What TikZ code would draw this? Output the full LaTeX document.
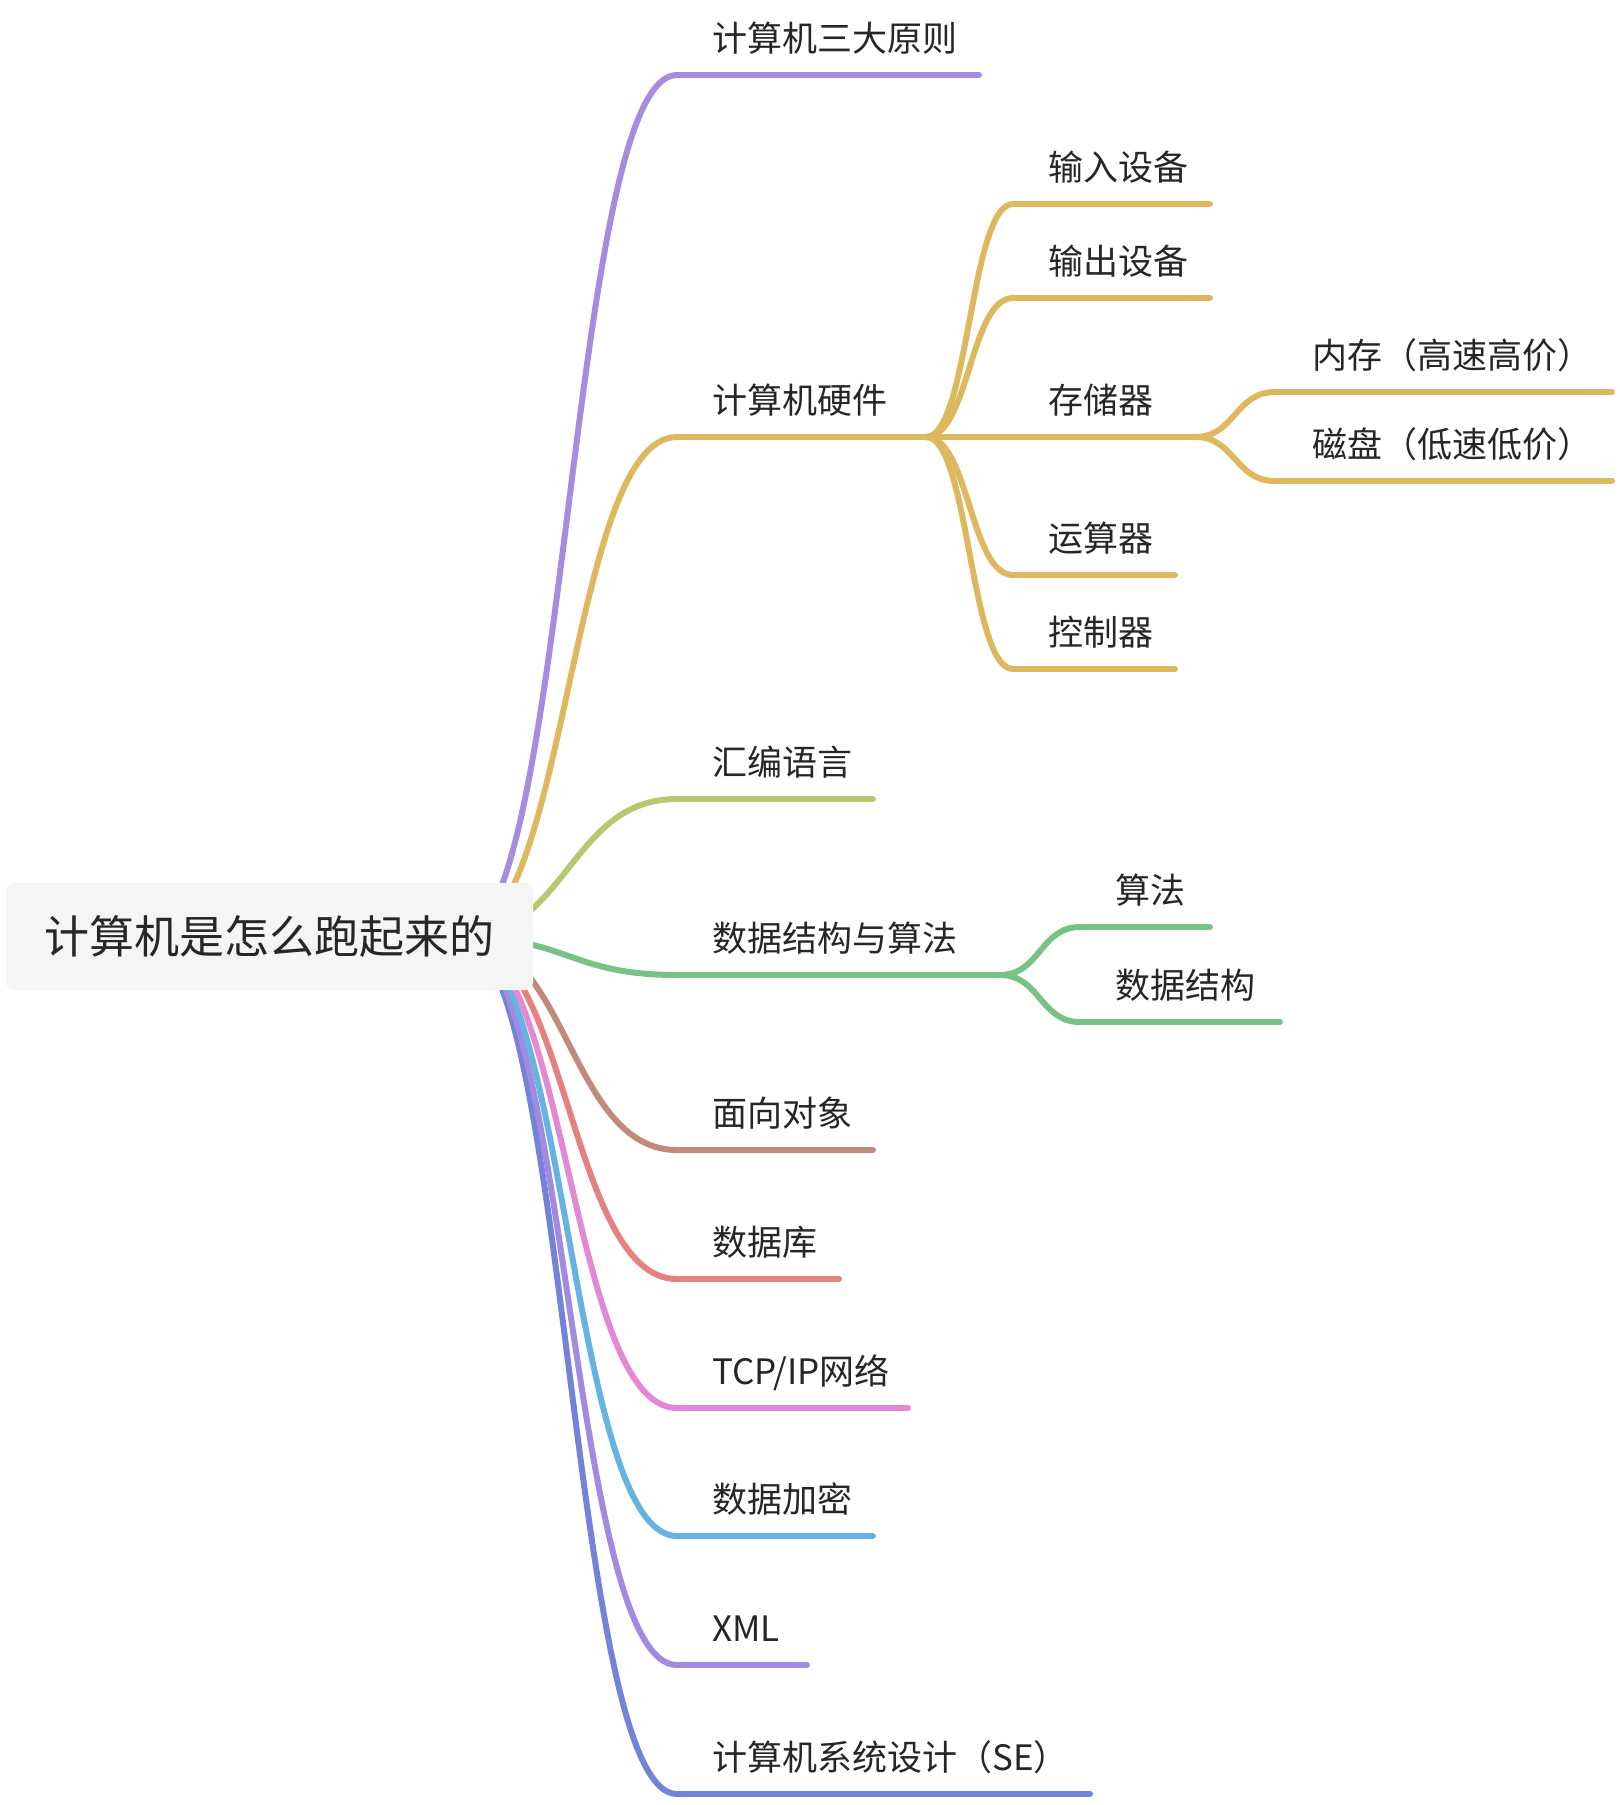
\documentclass[tikz,border=0pt]{standalone}
\usepackage{fontspec}
\newfontfamily\cjk{Noto Sans CJK SC}
\usetikzlibrary{calc}

\definecolor{cpurple}{HTML}{A68BDE}
\definecolor{cyellow}{HTML}{DEB85E}
\definecolor{colive}{HTML}{B5CA70}
\definecolor{cgreen}{HTML}{79C285}
\definecolor{cbrown}{HTML}{C28A79}
\definecolor{cred}{HTML}{E3827E}
\definecolor{cpink}{HTML}{E388D6}
\definecolor{cblue}{HTML}{66B2E2}
\definecolor{cviolet}{HTML}{A28AE0}
\definecolor{cindigo}{HTML}{7483DA}

\tikzset{
	branch/.style={line width=6pt, line cap=round},
	lbl/.style={anchor=base west, inner sep=0pt, text=black!85, font=\cjk\fontsize{35}{41}\selectfont},
	rootbox/.style={fill=black!4, rounded corners=8pt, minimum width=527pt, minimum height=107pt, inner sep=0pt, text=black!85, font=\cjk\fontsize{45}{54}\selectfont}
}
\def\link[#1](#2)(#3:#4){\draw[branch,#1] (#2) .. controls +(#4,0) and +(-#4,0) .. (#3);}

\begin{document}
\begin{tikzpicture}[x=1pt, y=-1pt]
		%%%%% START %%%%%
		\useasboundingbox (0,0) rectangle (1620,1805);
		
		\coordinate (rootout) at (460,937);
		
		% first level
		\coordinate (rules) at (677,75);   \coordinate (rulesend) at (979,75);
		\coordinate (hw) at (677,437);     \coordinate (hwfork) at (926,437);
		\coordinate (asm) at (677,799);    \coordinate (asmend) at (873,799);
		\coordinate (dsa) at (677,975);    \coordinate (dsafork) at (1000,975);
		\coordinate (oop) at (677,1150);   \coordinate (oopend) at (873,1150);
		\coordinate (db) at (677,1279);    \coordinate (dbend) at (839,1279);
		\coordinate (net) at (677,1408);   \coordinate (netend) at (908,1408);
		\coordinate (enc) at (677,1536);   \coordinate (encend) at (873,1536);
		\coordinate (xml) at (677,1665);   \coordinate (xmlend) at (807,1665);
		\coordinate (se) at (677,1794);    \coordinate (seend) at (1090,1794);
		
		\link[cpurple](rootout)(rules:108) \draw[branch,cpurple] (rules) -- (rulesend);
		\link[cyellow](rootout)(hw:108)    \draw[branch,cyellow] (hw) -- (hwfork);
		\link[colive](rootout)(asm:108)    \draw[branch,colive] (asm) -- (asmend);
		\link[cgreen](rootout)(dsa:108)    \draw[branch,cgreen] (dsa) -- (dsafork);
		\link[cindigo](rootout)(se:108)    \draw[branch,cindigo] (se) -- (seend);
		\link[cviolet](rootout)(xml:108)   \draw[branch,cviolet] (xml) -- (xmlend);
		\link[cblue](rootout)(enc:108)     \draw[branch,cblue] (enc) -- (encend);
		\link[cpink](rootout)(net:108)     \draw[branch,cpink] (net) -- (netend);
		\link[cred](rootout)(db:108)       \draw[branch,cred] (db) -- (dbend);
		\link[cbrown](rootout)(oop:108)    \draw[branch,cbrown] (oop) -- (oopend);
		
		% hardware
		\coordinate (inp) at (1013,204);   \coordinate (inpend) at (1210,204);
		\coordinate (outp) at (1013,298);  \coordinate (outpend) at (1210,298);
		\coordinate (mem) at (1013,437);   \coordinate (memfork) at (1195,437);
		\coordinate (alu) at (1013,575);   \coordinate (aluend) at (1175,575);
		\coordinate (ctl) at (1013,669);   \coordinate (ctlend) at (1175,669);
		
		\link[cyellow](hwfork)(inp:43)  \draw[branch,cyellow] (inp) -- (inpend);
		\link[cyellow](hwfork)(outp:43) \draw[branch,cyellow] (outp) -- (outpend);
		\link[cyellow](hwfork)(mem:43)  \draw[branch,cyellow] (mem) -- (memfork);
		\link[cyellow](hwfork)(alu:43)  \draw[branch,cyellow] (alu) -- (aluend);
		\link[cyellow](hwfork)(ctl:43)  \draw[branch,cyellow] (ctl) -- (ctlend);
		
		% memory
		\coordinate (ram) at (1275,392);   \coordinate (ramend) at (1612,392);
		\coordinate (disk) at (1275,481);  \coordinate (diskend) at (1612,481);
		
		\link[cyellow](memfork)(ram:40)  \draw[branch,cyellow] (ram) -- (ramend);
		\link[cyellow](memfork)(disk:40) \draw[branch,cyellow] (disk) -- (diskend);
		
		% data structures and algorithms
		\coordinate (algo) at (1080,927);  \coordinate (algoend) at (1210,927);
		\coordinate (ds) at (1080,1022);   \coordinate (dsend) at (1280,1022);
		
		\link[cgreen](dsafork)(algo:40) \draw[branch,cgreen] (algo) -- (algoend);
		\link[cgreen](dsafork)(ds:40)   \draw[branch,cgreen] (ds) -- (dsend);
		
		% labels
		\node[lbl] (ruleslbl) at (712,51) {计算机三大原则};
		\node[lbl] (hwlbl) at (712,413) {计算机硬件};
		\node[lbl] (asmlbl) at (712,775) {汇编语言};
		\node[lbl] (dsalbl) at (712,951) {数据结构与算法};
		\node[lbl] (ooplbl) at (712,1126) {面向对象};
		\node[lbl] (dblbl) at (712,1255) {数据库};
		\node[lbl] (netlbl) at (712,1384) {TCP/IP网络};
		\node[lbl] (enclbl) at (712,1512) {数据加密};
		\node[lbl] (xmllbl) at (712,1641) {XML};
		\node[lbl] (selbl) at (712,1770) {计算机系统设计（SE）};
		
		\node[lbl] (inplbl) at (1048,180) {输入设备};
		\node[lbl] (outplbl) at (1048,274) {输出设备};
		\node[lbl] (memlbl) at (1048,413) {存储器};
		\node[lbl] (alulbl) at (1048,551) {运算器};
		\node[lbl] (ctllbl) at (1048,645) {控制器};
		
		\node[lbl] (ramlbl) at (1312,368) {内存（高速高价）};
		\node[lbl] (disklbl) at (1312,457) {磁盘（低速低价）};
		
		\node[lbl] (algolbl) at (1115,903) {算法};
		\node[lbl] (dslbl) at (1115,998) {数据结构};
		
		% root
		\node[rootbox] (root) at (269.5,936.5) {计算机是怎么跑起来的};
		
		%%%%% END %%%%%
	\end{tikzpicture}
\end{document}
